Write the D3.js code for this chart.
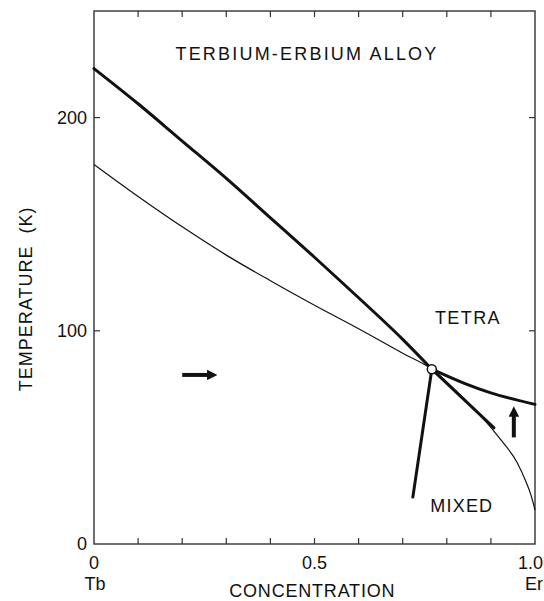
<!DOCTYPE html>
<meta charset="utf-8">
<style>
  body { margin: 0; background: #fff; }
  text { font-family: "Liberation Sans", Arial, sans-serif; fill: #111; }
</style>
<svg width="544" height="601"></svg>
<script src="https://d3js.org/d3.v7.min.js"></script>
<script>

// concentration of Er (x) and temperature in K
var thinX = [0, 0.1, 0.213, 0.3, 0.4, 0.5, 0.6, 0.7, 0.766, 0.83, 0.89, 0.92, 0.96, 0.98, 0.99, 1.0];
var thinT = [178, 163, 147, 135.5, 123.5, 112, 101, 89.5, 82, 70, 57, 49.5, 38, 29, 23.5, 16];

var thickX = [0, 0.1, 0.2, 0.3, 0.4, 0.5, 0.6, 0.7, 0.766];
var thickT = [223, 206.5, 189, 171.5, 153, 134.5, 115.5, 96, 82];

var extX = [0.766, 0.907];
var extT = [82, 54.5];

var rightX = [0.766, 0.837, 0.898, 1.0];
var rightT = [82, 75.6, 71, 65.5];

var downX = [0.766, 0.723];
var downT = [82, 22];

var triple = {x: 0.766, t: 82};

var arrows = [
  {x0: 0.2, t0: 79.3, x1: 0.277, t1: 79.3},
  {x0: 0.952, t0: 50, x1: 0.952, t1: 64}
];

var xTicks = d3.range(0, 1.01, 0.1);
var xLabels = [0, 0.5, 1.0];
var yTicks = [0, 100, 200];

var margin = {left: 94, top: 11},
    width = 441, height = 533;

var svg = d3.select("svg");
var g = svg.append("g").attr("transform", "translate(" + margin.left + "," + margin.top + ")");

var x = d3.scaleLinear().domain([0, 1]).range([0, width]);
var y = d3.scaleLinear().domain([0, 250]).range([height, 0]);

// frame
g.append("rect")
    .attr("width", width).attr("height", height)
    .attr("fill", "none").attr("stroke", "#333").attr("stroke-width", 1.4);

// ticks, pointing inward
g.selectAll(".xtb").data(xTicks.slice(1, -1)).enter().append("line")
    .attr("x1", x).attr("x2", x).attr("y1", height).attr("y2", height - 6)
    .attr("stroke", "#333").attr("stroke-width", 1.2);
g.selectAll(".xtt").data(xTicks.slice(1, -1)).enter().append("line")
    .attr("x1", x).attr("x2", x).attr("y1", 0).attr("y2", 6)
    .attr("stroke", "#333").attr("stroke-width", 1.2);
g.selectAll(".ytl").data(yTicks.slice(1)).enter().append("line")
    .attr("y1", y).attr("y2", y).attr("x1", 0).attr("x2", 6)
    .attr("stroke", "#333").attr("stroke-width", 1.2);
g.selectAll(".ytr").data(yTicks.slice(1)).enter().append("line")
    .attr("y1", y).attr("y2", y).attr("x1", width).attr("x2", width - 6)
    .attr("stroke", "#333").attr("stroke-width", 1.2);

// tick labels (the last ones are pulled in so they stay inside the page)
g.selectAll(".ylab").data(yTicks).enter().append("text")
    .attr("x", -7).attr("y", y).attr("dy", "0.35em")
    .attr("text-anchor", "end").attr("font-size", 18)
    .text(function(d) { return d; });
g.selectAll(".xlab").data(xLabels).enter().append("text")
    .attr("x", function(d) { return d === 1 ? x(d) + 8 : x(d); }).attr("y", height + 25)
    .attr("text-anchor", function(d) { return d === 1 ? "end" : "middle"; })
    .attr("font-size", 18)
    .text(function(d) { return d === 0 ? "0" : d.toFixed(1); });

g.append("text").attr("x", x(0) + 1).attr("y", height + 46)
    .attr("text-anchor", "middle").attr("font-size", 18).text("Tb");
g.append("text").attr("x", x(1) + 8).attr("y", height + 46)
    .attr("text-anchor", "end").attr("font-size", 18).text("Er");
g.append("text").attr("x", x(0.495)).attr("y", height + 53)
    .attr("text-anchor", "middle").attr("font-size", 18).attr("letter-spacing", 0.8)
    .text("CONCENTRATION");

svg.append("text")
    .attr("transform", "translate(32," + (margin.top + y(115)) + ") rotate(-90)")
    .attr("text-anchor", "middle").attr("font-size", 18).attr("letter-spacing", 1)
    .attr("xml:space", "preserve")
    .text("TEMPERATURE  (K)");

// curves
function pts(xs, ts) { return xs.map(function(v, i) { return [v, ts[i]]; }); }

var line = d3.line()
    .x(function(d) { return x(d[0]); })
    .y(function(d) { return y(d[1]); });

g.append("path").datum(pts(thinX, thinT)).attr("d", line.curve(d3.curveMonotoneX))
    .attr("fill", "none").attr("stroke", "#111").attr("stroke-width", 1.2);

[[thickX, thickT], [extX, extT], [rightX, rightT], [downX, downT]].forEach(function(s) {
  var c = s[0][1] < s[0][0] ? d3.curveLinear : d3.curveMonotoneX;
  g.append("path").datum(pts(s[0], s[1]))
      .attr("d", line.curve(c))
      .attr("fill", "none").attr("stroke", "#111").attr("stroke-width", 3)
      .attr("stroke-linecap", "round");
});

g.append("circle")
    .attr("cx", x(triple.x)).attr("cy", y(triple.t)).attr("r", 4.5)
    .attr("fill", "#fff").attr("stroke", "#111").attr("stroke-width", 1.5);

// arrows
svg.append("defs").append("marker")
    .attr("id", "head").attr("viewBox", "0 0 10 10")
    .attr("refX", 2).attr("refY", 5)
    .attr("markerWidth", 2.6).attr("markerHeight", 2.6)
    .attr("markerUnits", "strokeWidth")
    .attr("orient", "auto")
  .append("path").attr("d", "M0,0L10,5L0,10z").attr("fill", "#111");

g.selectAll(".arrow").data(arrows).enter().append("line")
    .attr("x1", function(d) { return x(d.x0); })
    .attr("y1", function(d) { return y(d.t0); })
    .attr("x2", function(d) { return x(d.x1) - (d.x1 > d.x0 ? 7 : 0); })
    .attr("y2", function(d) { return y(d.t1) + (d.t1 > d.t0 ? 7 : 0); })
    .attr("stroke", "#111").attr("stroke-width", 4)
    .attr("marker-end", "url(#head)");

// labels
g.append("text").attr("x", x(0.483)).attr("y", y(230)).attr("dy", "0.35em")
    .attr("text-anchor", "middle").attr("font-size", 18).attr("letter-spacing", 2.2)
    .text("TERBIUM-ERBIUM ALLOY");
g.append("text").attr("x", x(0.848)).attr("y", y(106)).attr("dy", "0.35em")
    .attr("text-anchor", "middle").attr("font-size", 18).attr("letter-spacing", 1.4)
    .text("TETRA");
g.append("text").attr("x", x(0.834)).attr("y", y(18)).attr("dy", "0.35em")
    .attr("text-anchor", "middle").attr("font-size", 18).attr("letter-spacing", 1.2)
    .text("MIXED");

</script>
